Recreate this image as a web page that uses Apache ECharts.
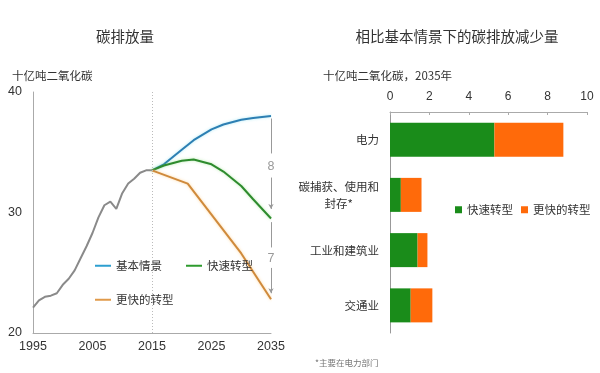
<!DOCTYPE html>
<html><head><meta charset="utf-8">
<script src="https://cdn.jsdelivr.net/npm/echarts@6/dist/echarts.min.js"></script>
<style>html,body{margin:0;padding:0;background:#fff}#c{width:600px;height:373px}</style>
</head><body><div id="c"></div>
<script>
// ---- Left chart data ----
const histYears = [1995,1996,1997,1998,1999,2000,2001,2002,2003,2004,2005,2006,2007,2008,2009,2010,2011,2012,2013,2014,2015];
const histValues = [22.1,22.7,23.0,23.1,23.3,24.0,24.5,25.2,26.2,27.2,28.3,29.6,30.6,30.9,30.3,31.6,32.4,32.8,33.3,33.5,33.5];
const projYears = [2015,2017,2020,2022,2025,2027,2030,2032,2035];
const baseValues = [33.5,34.0,35.2,36.0,36.9,37.3,37.7,37.85,38.0];
const fastValues = [33.5,33.9,34.3,34.4,34.0,33.4,32.2,31.1,29.5];
const fasterYears = [2015,2021,2030,2035];
const fasterValues = [33.5,32.4,26.6,22.8];
const leftSeriesNames = ['基本情景','快速转型','更快的转型'];
const gapLabels = ['8','7'];
// ---- Right chart data ----
const sectors = ['电力','碳捕获、使用和\n封存*','工业和建筑业','交通业'];
const fastReduction = [5.3,0.55,1.4,1.05];
const fasterReduction = [3.5,1.05,0.5,1.1];
const barSeriesNames = ['快速转型','更快的转型'];

const pairs = (xs, ys) => xs.map((x, i) => [x, ys[i]]);
const txt = '#333';
const font = 'Noto Sans CJK SC';
const arrowX = 2035;

const chart = echarts.init(document.getElementById('c'), null, {renderer: 'canvas'});
chart.setOption({
  animation: false,
  textStyle: {fontFamily: font},
  title: [
    {text: '碳排放量', left: 120, top: 24, textAlign: 'center', textStyle: {fontSize: 14.5, fontWeight: 'normal', color: txt, fontFamily: font}},
    {text: '十亿吨二氧化碳', left: 7, top: 65, textStyle: {fontSize: 11.5, fontWeight: 'normal', color: txt, fontFamily: font}},
    {text: '相比基本情景下的碳排放减少量', left: 452, top: 24, textAlign: 'center', textStyle: {fontSize: 14.5, fontWeight: 'normal', color: txt, fontFamily: font}},
    {text: '十亿吨二氧化碳，2035年', left: 318, top: 65, textStyle: {fontSize: 11.5, fontWeight: 'normal', color: txt, fontFamily: font}},
    {text: '*主要在电力部门', left: 310, top: 354, textStyle: {fontSize: 8.5, fontWeight: 'normal', color: '#777', fontFamily: font}}
  ],
  legend: [
    {data: leftSeriesNames.slice(0,2), left: 90, top: 255, icon: 'rect', itemWidth: 16, itemHeight: 2, itemGap: 24,
     textStyle: {fontSize: 11.5, color: txt, fontFamily: font}},
    {data: leftSeriesNames.slice(2), left: 90, top: 289, icon: 'rect', itemWidth: 16, itemHeight: 2,
     textStyle: {fontSize: 11.5, color: txt, fontFamily: font}},
    {data: barSeriesNames.map(n => n + ' '), left: 455, top: 204, width: 200, orient: 'horizontal', icon: 'rect',
     itemWidth: 7, itemHeight: 7, itemGap: 8, padding: 0,
     formatter: n => n.trim(), textStyle: {fontSize: 11.5, color: txt, fontFamily: font}}
  ],
  grid: [
    {left: 33, top: 92, width: 238, height: 241},
    {left: 390, top: 112, width: 197, height: 221}
  ],
  xAxis: [
    {type: 'value', gridIndex: 0, min: 1995, max: 2035, interval: 10,
     axisLine: {show: true, lineStyle: {color: '#aaa'}}, axisTick: {show: false}, splitLine: {show: false},
     axisLabel: {color: txt, fontSize: 12.5, margin: 7, fontFamily: 'Liberation Sans', formatter: v => String(v)}},
    {type: 'value', gridIndex: 1, position: 'top', min: 0, max: 10, interval: 2,
     axisLine: {show: true, lineStyle: {color: '#aaa'}}, axisTick: {show: true, inside: true, length: 3, lineStyle: {color: '#aaa'}},
     splitLine: {show: false}, axisLabel: {color: txt, fontSize: 12, margin: 9, fontFamily: 'Liberation Sans'}}
  ],
  yAxis: [
    {type: 'value', gridIndex: 0, min: 20, max: 40, interval: 10,
     axisLine: {show: true, lineStyle: {color: '#aaa'}}, axisTick: {show: false}, splitLine: {show: false},
     axisLabel: {color: txt, fontSize: 12.5, margin: 11, fontFamily: 'Liberation Sans'}},
    {type: 'category', gridIndex: 1, data: sectors, inverse: true,
     axisLine: {show: true, lineStyle: {color: '#999'}}, axisTick: {show: false},
     axisLabel: {color: txt, fontSize: 11.5, margin: 11, lineHeight: 17,
       formatter: v => v.split('\n').map(s => '{c|' + s + '}').join('\n'),
       rich: {c: {align: 'center', fontSize: 11.5, color: txt, lineHeight: 17, fontFamily: font}}}}
  ],
  series: [
    {type: 'line', name: 'history', xAxisIndex: 0, yAxisIndex: 0, data: pairs(histYears, histValues),
     symbol: 'none', lineStyle: {color: '#8a8a8a', width: 2}, itemStyle: {color: '#8a8a8a'},
     markLine: {silent: true, symbol: 'none', label: {show: false},
       lineStyle: {color: '#bbb', type: [1, 2], width: 1}, data: [{xAxis: 2015}]}},
    {type: 'line', name: leftSeriesNames[0], xAxisIndex: 0, yAxisIndex: 0, data: pairs(projYears, baseValues), clip: false,
     symbol: 'none', lineStyle: {color: '#2d7fb3', width: 2, shadowColor: 'rgba(120,220,240,0.6)', shadowBlur: 3}, itemStyle: {color: '#2d9fd0'},
     markLine: {silent: true, symbol: ['none', 'none'],
       lineStyle: {color: '#999', type: 'solid', width: 1}, label: {show: false},
       data: [
         [{coord: [arrowX, 37.8]}, {coord: [arrowX, 34.9]}],
         [{coord: [arrowX, 29.2]}, {coord: [arrowX, 27.1]}]
       ]},
     markPoint: {silent: true, symbol: 'rect', symbolSize: [1, 1], itemStyle: {color: 'rgba(0,0,0,0)'},
       label: {show: true, position: 'inside', color: '#999', fontSize: 12.5, fontFamily: 'Liberation Sans'},
       data: [
         {coord: [arrowX, 33.85], value: gapLabels[0], label: {formatter: gapLabels[0]}},
         {coord: [arrowX, 26.2], value: gapLabels[1], label: {formatter: gapLabels[1]}}
       ]}},
    {type: 'line', name: leftSeriesNames[1], xAxisIndex: 0, yAxisIndex: 0, data: pairs(projYears, fastValues), clip: false,
     symbol: 'none', lineStyle: {color: '#2e8b2e', width: 2, shadowColor: 'rgba(120,220,100,0.5)', shadowBlur: 3}, itemStyle: {color: '#2e9b2e'},
     markLine: {silent: true, symbol: ['none', 'arrow'], symbolSize: [4, 5],
       lineStyle: {color: '#999', type: 'solid', width: 1}, label: {show: false},
       data: [
         [{coord: [arrowX, 32.9]}, {coord: [arrowX, 30.3]}],
         [{coord: [arrowX, 25.4]}, {coord: [arrowX, 23.3]}]
       ]}},
    {type: 'line', name: leftSeriesNames[2], xAxisIndex: 0, yAxisIndex: 0, data: pairs(fasterYears, fasterValues),
     symbol: 'none', lineStyle: {color: '#cf8a3c', width: 2, shadowColor: 'rgba(255,200,120,0.7)', shadowBlur: 3}, itemStyle: {color: '#e09a4a'}},
    {type: 'bar', name: barSeriesNames[0] + ' ', xAxisIndex: 1, yAxisIndex: 1, stack: 'r', data: fastReduction,
     barWidth: 34, itemStyle: {color: '#1a8c1a'}},
    {type: 'bar', name: barSeriesNames[1] + ' ', xAxisIndex: 1, yAxisIndex: 1, stack: 'r', data: fasterReduction,
     barWidth: 34, itemStyle: {color: '#ff6a0a'}}
  ]
});
</script></body></html>
